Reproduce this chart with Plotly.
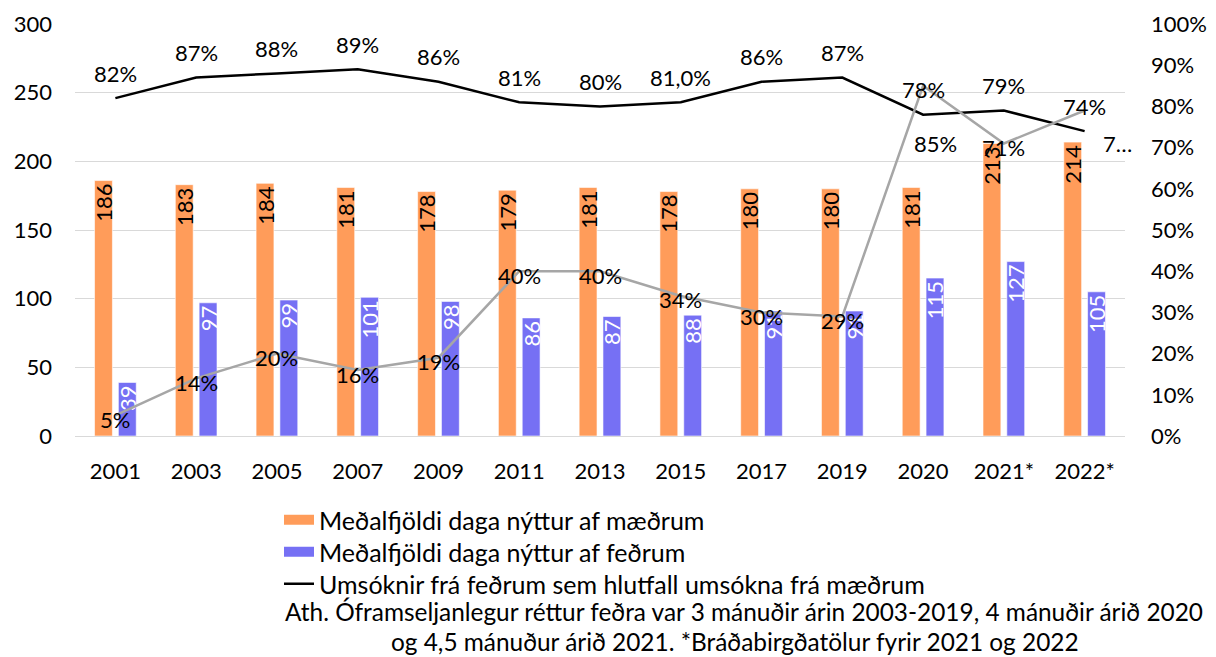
import plotly.graph_objects as go

categories = ["2001", "2003", "2005", "2007", "2009", "2011", "2013", "2015",
              "2017", "2019", "2020", "2021*", "2022*"]
mothers_days = [186, 183, 184, 181, 178, 179, 181, 178, 180, 180, 181, 213, 214]
fathers_days = [39, 97, 99, 101, 98, 86, 87, 88, 91, 91, 115, 127, 105]
father_ratio = [0.82, 0.87, 0.88, 0.89, 0.86, 0.81, 0.80, 0.81, 0.86, 0.87, 0.78, 0.79, 0.74]
father_ratio_labels = ["82%", "87%", "88%", "89%", "86%", "81%", "80%", "81,0%",
                       "86%", "87%", "78%", "79%", "74%"]
grey_share = [0.05, 0.14, 0.20, 0.16, 0.19, 0.40, 0.40, 0.34, 0.30, 0.29, 0.85, 0.71, 0.79]
grey_labels = ["5%", "14%", "20%", "16%", "19%", "40%", "40%", "34%", "30%", "29%",
               "85%", "71%", "7…"]
legend_names = ["Meðalfjöldi daga nýttur af mæðrum",
                "Meðalfjöldi daga nýttur af feðrum",
                "Umsóknir frá feðrum sem hlutfall umsókna frá mæðrum"]
note_line1 = "Ath. Óframseljanlegur réttur feðra var 3 mánuðir árin 2003-2019, 4 mánuðir árið 2020"
note_line2 = "og 4,5 mánuður árið 2021. *Bráðabirgðatölur fyrir 2021 og 2022"

FONT = "Lato"
FS = 22
FS_LEG = 25
FS_NOTE = 24.4
ORANGE = "#FF9C5A"
BLUE = "#7670F4"

W, H = 1216, 657
L, R, T, B = 75, 1125, 24, 436


def px_to_paper_x(px):
    return (px - L) / (R - L)


def px_to_paper_y(py):
    return (B - py) / (B - T)


fig = go.Figure()
fig.add_trace(go.Bar(
    x=categories, y=mothers_days, name=legend_names[0], showlegend=False,
    marker=dict(color=ORANGE, line=dict(color="#FFFFFF", width=0.6)),
    text=[str(v) for v in mothers_days], textposition="inside", insidetextanchor="end",
    textangle=-90, textfont=dict(color="#000000", size=FS, family=FONT),
    cliponaxis=False, hoverinfo="skip"))
fig.add_trace(go.Bar(
    x=categories, y=fathers_days, name=legend_names[1], showlegend=False,
    marker=dict(color=BLUE, line=dict(color="#FFFFFF", width=0.6)),
    text=[str(v) for v in fathers_days], textposition="inside", insidetextanchor="end",
    textangle=-90, textfont=dict(color="#FFFFFF", size=FS, family=FONT),
    cliponaxis=False, hoverinfo="skip"))
fig.add_trace(go.Scatter(
    x=categories, y=father_ratio, yaxis="y2", mode="lines",
    name=legend_names[2], legend="legend3",
    line=dict(color="#000000", width=2.5), cliponaxis=False))
fig.add_trace(go.Scatter(
    x=categories, y=grey_share, yaxis="y2", mode="lines", showlegend=False,
    line=dict(color="#A6A6A6", width=2.5), cliponaxis=False))
# legend-only swatches for the bar series (wide rectangles like the original)
fig.add_trace(go.Scatter(x=[None], y=[None], mode="lines", name=legend_names[0],
                         legend="legend", line=dict(color=ORANGE, width=13)))
fig.add_trace(go.Scatter(x=[None], y=[None], mode="lines", name=legend_names[1],
                         legend="legend2", line=dict(color=BLUE, width=13)))

annotations = []
for i, (v, t) in enumerate(zip(father_ratio, father_ratio_labels)):
    annotations.append(dict(x=i, y=v, xref="x", yref="y2", text=t, showarrow=False,
                            yshift=25, font=dict(size=FS, family=FONT, color="#000000")))
grey_shifts = {10: (12, -58), 12: (33, -33)}
for i, (v, t) in enumerate(zip(grey_share, grey_labels)):
    xs, ys = grey_shifts.get(i, (0, -4))
    annotations.append(dict(x=i, y=v, xref="x", yref="y2", text=t, showarrow=False,
                            xshift=xs, yshift=ys,
                            font=dict(size=FS, family=FONT, color="#000000")))
annotations.append(dict(
    x=px_to_paper_x(744), y=px_to_paper_y(611), xref="paper", yref="paper",
    xanchor="center", yanchor="middle", showarrow=False, text=note_line1,
    font=dict(size=FS_NOTE, family=FONT, color="#000000")))
annotations.append(dict(
    x=px_to_paper_x(735), y=px_to_paper_y(641), xref="paper", yref="paper",
    xanchor="center", yanchor="middle", showarrow=False, text=note_line2,
    font=dict(size=FS_NOTE, family=FONT, color="#000000")))


def legend_at(ypx):
    return dict(x=px_to_paper_x(279), y=px_to_paper_y(ypx), xanchor="left", yanchor="middle",
                font=dict(size=FS_LEG, family=FONT, color="#000000"), itemwidth=30,
                bgcolor="rgba(0,0,0,0)")


fig.update_layout(
    width=W, height=H,
    margin=dict(l=L, r=W - R, t=T, b=H - B, autoexpand=False),
    paper_bgcolor="#FFFFFF", plot_bgcolor="#FFFFFF",
    font=dict(family=FONT, size=FS, color="#000000"),
    barmode="group", bargap=0.41, bargroupgap=0.25,
    uniformtext=dict(minsize=FS, mode="show"),
    showlegend=True,
    legend=legend_at(520),
    legend2=legend_at(552),
    legend3=legend_at(584),
    xaxis=dict(type="category", range=[-0.5, len(categories) - 0.5], showgrid=False,
               showline=True, linecolor="#D9D9D9", automargin=False,
               linewidth=1, ticks="", tickfont=dict(size=FS), ticklabelstandoff=16),
    yaxis=dict(range=[0, 300], dtick=50, showgrid=True, gridcolor="#D9D9D9", gridwidth=1,
               zeroline=False, ticks="", tickfont=dict(size=FS), ticklabelstandoff=22,
               automargin=False),
    yaxis2=dict(range=[0, 1], dtick=0.1, tickformat=".0%", overlaying="y", side="right",
                showgrid=False, zeroline=False, ticks="", tickfont=dict(size=FS),
                ticklabelstandoff=25, automargin=False),
    annotations=annotations,
)

fig.write_html("out.html", config={"displayModeBar": False},
               post_script="document.body.style.margin='0';document.body.style.overflow='hidden';")
